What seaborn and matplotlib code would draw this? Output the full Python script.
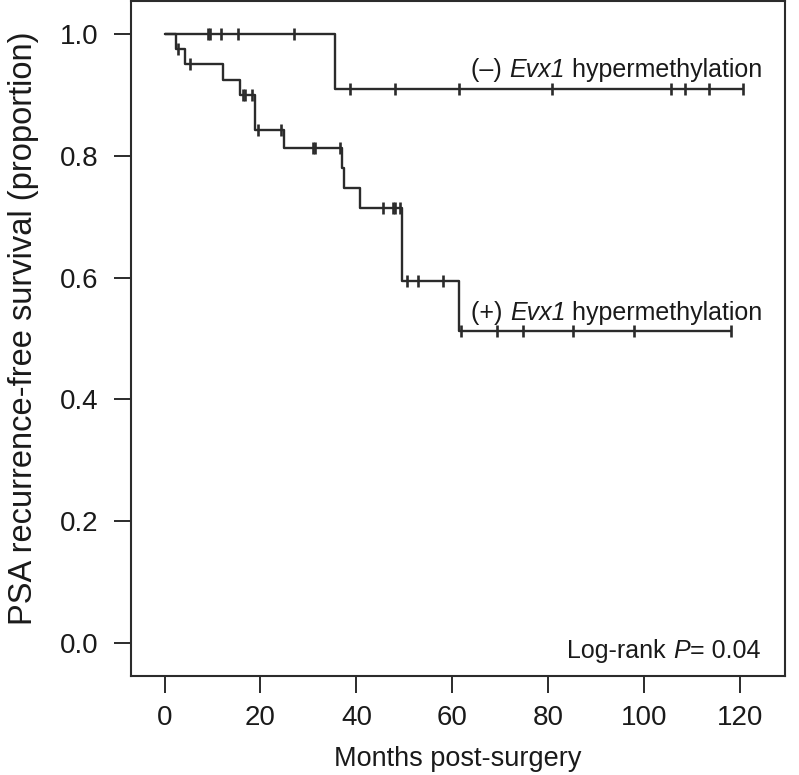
import matplotlib
matplotlib.use('Agg')
import matplotlib.pyplot as plt
import matplotlib.transforms as mtransforms
import numpy as np
import seaborn as sns

# Evx1 negative group: step times / survival levels, censored times
neg_times = [0, 35.5]
neg_surv = [1.0, 0.909]
neg_end = 120.7
neg_censor = [9.0, 9.4, 11.8, 15.4, 27.0, 38.7, 48.0, 61.4, 80.9, 105.6, 108.5, 113.5, 120.7]

# Evx1 positive group
pos_times = [0, 2.3, 4.3, 12.2, 15.8, 18.9, 24.8, 36.9, 37.4, 40.7, 49.6, 61.3]
pos_surv = [1.0, 0.975, 0.95, 0.925, 0.90, 0.843, 0.813, 0.780, 0.747, 0.715, 0.595, 0.512]
pos_end = 118.1
pos_censor = [2.7, 5.4, 16.4, 16.8, 18.2, 19.5, 24.2, 30.9, 31.3, 36.6, 45.5, 47.6, 48.1, 49.1,
              50.5, 52.9, 58.1, 61.8, 69.4, 74.7, 85.2, 98.0, 118.1]

x_ticks = [0, 20, 40, 60, 80, 100, 120]
y_ticks = [0.0, 0.2, 0.4, 0.6, 0.8, 1.0]

sns.set_theme(style='white')
plt.rcParams['font.family'] = ['Liberation Sans', 'DejaVu Sans']

line_col = '#2b2b2b'
text_col = '#1a1a1a'

fig = plt.figure(figsize=(7.99, 7.75), dpi=100)
ax = fig.add_axes([0.164, 0.1277, 0.8185, 0.871])


def km_step(times, surv, end, censor):
    t = np.array(times, dtype=float)
    s = np.array(surv, dtype=float)
    xs = np.append(t, end)
    ys = np.append(s, s[-1])
    c = np.array(censor, dtype=float)
    cy = s[np.searchsorted(t, c, side='right') - 1]
    sns.lineplot(x=xs, y=ys, drawstyle='steps-post', color=line_col, lw=1.7, ax=ax)
    ax.plot(c, cy, linestyle='none', marker='|', markersize=9, mew=1.9, color=line_col)


km_step(neg_times, neg_surv, neg_end, neg_censor)
km_step(pos_times, pos_surv, pos_end, pos_censor)

ax.set_xlim(-7.0, 129.4)
ax.set_ylim(-0.054, 1.054)
ax.set_xticks(x_ticks)
ax.set_xticklabels([str(v) for v in x_ticks])
ax.set_yticks(y_ticks)
ax.set_yticklabels(['%.1f' % v for v in y_ticks])

for sp in ax.spines.values():
    sp.set_color(line_col)
    sp.set_linewidth(1.5)
ax.tick_params(axis='both', direction='out', length=12.5, width=1.4, color=line_col,
               labelsize=20, labelcolor=text_col)
ax.tick_params(axis='y', pad=11)
ax.tick_params(axis='x', pad=8)
ax.tick_params(bottom=True, left=True)

ax.set_xlabel('Months post-surgery', fontsize=19.5, color=text_col, labelpad=11)
ax.set_ylabel('PSA recurrence-free survival (proportion)', fontsize=23.5, color=text_col)
ax.yaxis.set_label_coords(-0.141, 0.515)

renderer = fig.canvas.get_renderer()


def rich_text(x, y, pieces, ha='left'):
    # pieces: list of (string, style); laid out left to right on one baseline
    arts = []
    off = 0.0
    for s, style in pieces:
        tr = mtransforms.offset_copy(ax.transData, fig=fig, x=off, y=0, units='dots')
        t = ax.text(x, y, s, fontsize=18, color=text_col, va='baseline', ha='left',
                    style=style, transform=tr)
        off += t.get_window_extent(renderer).width
        arts.append(t)
    if ha == 'right':
        for t in arts:
            t.set_transform(mtransforms.offset_copy(t.get_transform(), fig=fig, x=-off, y=0, units='dots'))


rich_text(64.0, 0.930, [('(\u2013) ', 'normal'), ('Evx1', 'italic'), (' hypermethylation', 'normal')])
rich_text(64.0, 0.531, [('(+) ', 'normal'), ('Evx1', 'italic'), (' hypermethylation', 'normal')])
rich_text(124.2, -0.025, [('Log-rank ', 'normal'), ('P', 'italic'), ('= 0.04', 'normal')], ha='right')

fig.savefig('out.png', dpi=100)
